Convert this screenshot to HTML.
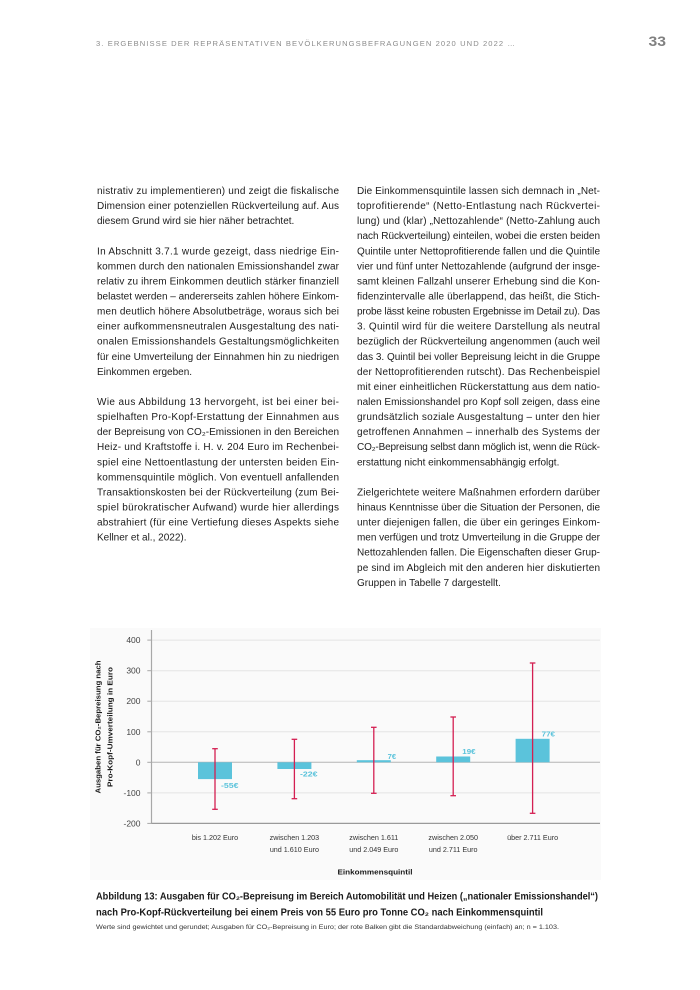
<!DOCTYPE html>
<html lang="de">
<head>
<meta charset="utf-8">
<title>Abbildung 13</title>
<style>
  html, body { margin: 0; padding: 0; background: #ffffff; }
  body { width: 700px; height: 990px; overflow: hidden; }
  svg { display: block; }
  .b { font-family: "Liberation Sans", "DejaVu Sans", sans-serif; font-size: 10px; fill: #1c1c1c; }
  .ax { font-family: "Liberation Sans", "DejaVu Sans", sans-serif; }
</style>
</head>
<body>
<svg width="700" height="990" viewBox="0 0 700 990" xmlns="http://www.w3.org/2000/svg">
  <rect x="0" y="0" width="700" height="990" fill="#ffffff"/>

  <!-- Header -->
  <text x="96" y="46" class="ax" font-size="7.6" fill="#8c8c8c" textLength="419" lengthAdjust="spacing">3. ERGEBNISSE DER REPRÄSENTATIVEN BEVÖLKERUNGSBEFRAGUNGEN 2020 UND 2022 …</text>
  <text x="648.5" y="45.8" class="ax" font-size="13.5" font-weight="bold" fill="#808080" textLength="17.5" lengthAdjust="spacingAndGlyphs">33</text>

  <!-- Left column -->
  <g class="b">
    <text x="97" y="194" textLength="242" lengthAdjust="spacing">nistrativ zu implementieren) und zeigt die fiskalische</text>
    <text x="97" y="209.07" textLength="242" lengthAdjust="spacing">Dimension einer potenziellen Rückverteilung auf. Aus</text>
    <text x="97" y="224.14">diesem Grund wird sie hier näher betrachtet.</text>

    <text x="97" y="254.28" textLength="242" lengthAdjust="spacing">In Abschnitt 3.7.1 wurde gezeigt, dass niedrige Ein-</text>
    <text x="97" y="269.35" textLength="242" lengthAdjust="spacing">kommen durch den nationalen Emissionshandel zwar</text>
    <text x="97" y="284.42" textLength="242" lengthAdjust="spacing">relativ zu ihrem Einkommen deutlich stärker finanziell</text>
    <text x="97" y="299.49" textLength="242" lengthAdjust="spacing">belastet werden – andererseits zahlen höhere Einkom-</text>
    <text x="97" y="314.56" textLength="242" lengthAdjust="spacing">men deutlich höhere Absolutbeträge, woraus sich bei</text>
    <text x="97" y="329.63" textLength="242" lengthAdjust="spacing">einer aufkommensneutralen Ausgestaltung des nati-</text>
    <text x="97" y="344.70" textLength="242" lengthAdjust="spacing">onalen Emissionshandels Gestaltungsmöglichkeiten</text>
    <text x="97" y="359.77" textLength="242" lengthAdjust="spacing">für eine Umverteilung der Einnahmen hin zu niedrigen</text>
    <text x="97" y="374.84">Einkommen ergeben.</text>

    <text x="97" y="404.98" textLength="242" lengthAdjust="spacing">Wie aus Abbildung 13 hervorgeht, ist bei einer bei-</text>
    <text x="97" y="420.05" textLength="242" lengthAdjust="spacing">spielhaften Pro-Kopf-Erstattung der Einnahmen aus</text>
    <text x="97" y="435.12" textLength="242" lengthAdjust="spacing">der Bepreisung von CO₂-Emissionen in den Bereichen</text>
    <text x="97" y="450.19" textLength="242" lengthAdjust="spacing">Heiz- und Kraftstoffe i. H. v. 204 Euro im Rechenbei-</text>
    <text x="97" y="465.26" textLength="242" lengthAdjust="spacing">spiel eine Nettoentlastung der untersten beiden Ein-</text>
    <text x="97" y="480.33" textLength="242" lengthAdjust="spacing">kommensquintile möglich. Von eventuell anfallenden</text>
    <text x="97" y="495.40" textLength="242" lengthAdjust="spacing">Transaktionskosten bei der Rückverteilung (zum Bei-</text>
    <text x="97" y="510.47" textLength="242" lengthAdjust="spacing">spiel bürokratischer Aufwand) wurde hier allerdings</text>
    <text x="97" y="525.54" textLength="242" lengthAdjust="spacing">abstrahiert (für eine Vertiefung dieses Aspekts siehe</text>
    <text x="97" y="540.61">Kellner et al., 2022).</text>
  </g>

  <!-- Right column -->
  <g class="b">
    <text x="357" y="194" textLength="243" lengthAdjust="spacing">Die Einkommensquintile lassen sich demnach in „Net-</text>
    <text x="357" y="209.07" textLength="243" lengthAdjust="spacing">toprofitierende“ (Netto-Entlastung nach Rückvertei-</text>
    <text x="357" y="224.14" textLength="243" lengthAdjust="spacing">lung) und (klar) „Nettozahlende“ (Netto-Zahlung auch</text>
    <text x="357" y="239.21" textLength="243" lengthAdjust="spacing">nach Rückverteilung) einteilen, wobei die ersten beiden</text>
    <text x="357" y="254.28" textLength="243" lengthAdjust="spacing">Quintile unter Nettoprofitierende fallen und die Quintile</text>
    <text x="357" y="269.35" textLength="243" lengthAdjust="spacing">vier und fünf unter Nettozahlende (aufgrund der insge-</text>
    <text x="357" y="284.42" textLength="243" lengthAdjust="spacing">samt kleinen Fallzahl unserer Erhebung sind die Kon-</text>
    <text x="357" y="299.49" textLength="243" lengthAdjust="spacing">fidenzintervalle alle überlappend, das heißt, die Stich-</text>
    <text x="357" y="314.56" textLength="243" lengthAdjust="spacing">probe lässt keine robusten Ergebnisse im Detail zu). Das</text>
    <text x="357" y="329.63" textLength="243" lengthAdjust="spacing">3. Quintil wird für die weitere Darstellung als neutral</text>
    <text x="357" y="344.70" textLength="243" lengthAdjust="spacing">bezüglich der Rückverteilung angenommen (auch weil</text>
    <text x="357" y="359.77" textLength="243" lengthAdjust="spacing">das 3. Quintil bei voller Bepreisung leicht in die Gruppe</text>
    <text x="357" y="374.84" textLength="243" lengthAdjust="spacing">der Nettoprofitierenden rutscht). Das Rechenbeispiel</text>
    <text x="357" y="389.91" textLength="243" lengthAdjust="spacing">mit einer einheitlichen Rückerstattung aus dem natio-</text>
    <text x="357" y="404.98" textLength="243" lengthAdjust="spacing">nalen Emissionshandel pro Kopf soll zeigen, dass eine</text>
    <text x="357" y="420.05" textLength="243" lengthAdjust="spacing">grundsätzlich soziale Ausgestaltung – unter den hier</text>
    <text x="357" y="435.12" textLength="243" lengthAdjust="spacing">getroffenen Annahmen – innerhalb des Systems der</text>
    <text x="357" y="450.19" textLength="243" lengthAdjust="spacing">CO₂-Bepreisung selbst dann möglich ist, wenn die Rück-</text>
    <text x="357" y="465.26">erstattung nicht einkommensabhängig erfolgt.</text>

    <text x="357" y="495.40" textLength="243" lengthAdjust="spacing">Zielgerichtete weitere Maßnahmen erfordern darüber</text>
    <text x="357" y="510.47" textLength="243" lengthAdjust="spacing">hinaus Kenntnisse über die Situation der Personen, die</text>
    <text x="357" y="525.54" textLength="243" lengthAdjust="spacing">unter diejenigen fallen, die über ein geringes Einkom-</text>
    <text x="357" y="540.61" textLength="243" lengthAdjust="spacing">men verfügen und trotz Umverteilung in die Gruppe der</text>
    <text x="357" y="555.68" textLength="243" lengthAdjust="spacing">Nettozahlenden fallen. Die Eigenschaften dieser Grup-</text>
    <text x="357" y="570.75" textLength="243" lengthAdjust="spacing">pe sind im Abgleich mit den anderen hier diskutierten</text>
    <text x="357" y="585.82">Gruppen in Tabelle 7 dargestellt.</text>
  </g>

  <!-- Chart background -->
  <rect x="90" y="628" width="511" height="252" fill="#fafafa"/>

  <!-- Gridlines -->
  <g stroke="#e4e4e4" stroke-width="1">
    <line x1="151.5" y1="640.1" x2="600" y2="640.1"/>
    <line x1="151.5" y1="670.7" x2="600" y2="670.7"/>
    <line x1="151.5" y1="701.2" x2="600" y2="701.2"/>
    <line x1="151.5" y1="731.8" x2="600" y2="731.8"/>
    <line x1="151.5" y1="792.9" x2="600" y2="792.9"/>
  </g>
  <!-- zero line -->
  <line x1="151.5" y1="762.3" x2="600" y2="762.3" stroke="#b4b4b4" stroke-width="1"/>

  <!-- Bars -->
  <g fill="#5bc3db">
    <rect x="198" y="762.3" width="34" height="16.8"/>
    <rect x="277.4" y="762.3" width="34" height="6.7"/>
    <rect x="356.8" y="760.2" width="34" height="2.1"/>
    <rect x="436.2" y="756.5" width="34" height="5.8"/>
    <rect x="515.6" y="738.8" width="34" height="23.5"/>
  </g>

  <!-- Error bars -->
  <g stroke="#d41f52" stroke-width="1.3" fill="none">
    <line x1="215" y1="748.7" x2="215" y2="809.3"/>
    <line x1="212.2" y1="748.7" x2="217.8" y2="748.7"/>
    <line x1="212.2" y1="809.3" x2="217.8" y2="809.3"/>

    <line x1="294.4" y1="739.3" x2="294.4" y2="798.7"/>
    <line x1="291.6" y1="739.3" x2="297.2" y2="739.3"/>
    <line x1="291.6" y1="798.7" x2="297.2" y2="798.7"/>

    <line x1="373.8" y1="727.3" x2="373.8" y2="793.3"/>
    <line x1="371" y1="727.3" x2="376.6" y2="727.3"/>
    <line x1="371" y1="793.3" x2="376.6" y2="793.3"/>

    <line x1="453.2" y1="717" x2="453.2" y2="795.7"/>
    <line x1="450.4" y1="717" x2="456" y2="717"/>
    <line x1="450.4" y1="795.7" x2="456" y2="795.7"/>

    <line x1="532.6" y1="663" x2="532.6" y2="813.3"/>
    <line x1="529.8" y1="663" x2="535.4" y2="663"/>
    <line x1="529.8" y1="813.3" x2="535.4" y2="813.3"/>
  </g>

  <!-- Value labels -->
  <g class="ax" font-size="7" font-weight="bold" fill="#5bc3db">
    <text x="221" y="787.8" textLength="17.5" lengthAdjust="spacingAndGlyphs">-55€</text>
    <text x="300" y="776.6" textLength="17.5" lengthAdjust="spacingAndGlyphs">-22€</text>
    <text x="387.7" y="759.2" textLength="8.5" lengthAdjust="spacingAndGlyphs">7€</text>
    <text x="462.3" y="754.2" textLength="13.3" lengthAdjust="spacingAndGlyphs">19€</text>
    <text x="541.7" y="736.5" textLength="13.3" lengthAdjust="spacingAndGlyphs">77€</text>
  </g>

  <!-- Axes -->
  <line x1="151.5" y1="630" x2="151.5" y2="823.4" stroke="#a8a8a8" stroke-width="1.2"/>
  <line x1="151.5" y1="823.4" x2="600" y2="823.4" stroke="#9a9a9a" stroke-width="1.2"/>
  <g stroke="#a8a8a8" stroke-width="1">
    <line x1="147.3" y1="640.1" x2="151.5" y2="640.1"/>
    <line x1="147.3" y1="670.7" x2="151.5" y2="670.7"/>
    <line x1="147.3" y1="701.2" x2="151.5" y2="701.2"/>
    <line x1="147.3" y1="731.8" x2="151.5" y2="731.8"/>
    <line x1="147.3" y1="762.3" x2="151.5" y2="762.3"/>
    <line x1="147.3" y1="792.9" x2="151.5" y2="792.9"/>
    <line x1="147.3" y1="823.4" x2="151.5" y2="823.4"/>
  </g>
  <g class="ax" font-size="8.5" fill="#444" text-anchor="end">
    <text x="140.5" y="643.1">400</text>
    <text x="140.5" y="673.7">300</text>
    <text x="140.5" y="704.2">200</text>
    <text x="140.5" y="734.8">100</text>
    <text x="140.5" y="765.3">0</text>
    <text x="140.5" y="795.9">-100</text>
    <text x="140.5" y="826.4">-200</text>
  </g>

  <!-- Y axis title -->
  <g class="ax" font-size="7.5" font-weight="bold" fill="#1a1a1a" text-anchor="middle">
    <text transform="translate(100.6,727) rotate(-90)" textLength="133" lengthAdjust="spacingAndGlyphs">Ausgaben für CO₂-Bepreisung nach</text>
    <text transform="translate(112.3,727) rotate(-90)" textLength="120" lengthAdjust="spacingAndGlyphs">Pro-Kopf-Umverteilung in Euro</text>
  </g>

  <!-- X category labels -->
  <g class="ax" font-size="7.2" fill="#333" text-anchor="middle">
    <text x="215" y="839.8">bis 1.202 Euro</text>
    <text x="294.4" y="839.8">zwischen 1.203</text>
    <text x="294.4" y="851.8">und 1.610 Euro</text>
    <text x="373.8" y="839.8">zwischen 1.611</text>
    <text x="373.8" y="851.8">und 2.049 Euro</text>
    <text x="453.2" y="839.8">zwischen 2.050</text>
    <text x="453.2" y="851.8">und 2.711 Euro</text>
    <text x="532.6" y="839.8">über 2.711 Euro</text>
  </g>
  <text x="375" y="874.5" class="ax" font-size="7.6" font-weight="bold" fill="#1a1a1a" text-anchor="middle" textLength="75" lengthAdjust="spacingAndGlyphs">Einkommensquintil</text>

  <!-- Caption -->
  <text x="96" y="899.5" class="ax" font-size="9.8" font-weight="bold" fill="#1a1a1a" textLength="502" lengthAdjust="spacingAndGlyphs">Abbildung 13: Ausgaben für CO₂-Bepreisung im Bereich Automobilität und Heizen („nationaler Emissionshandel“)</text>
  <text x="96" y="915.5" class="ax" font-size="9.8" font-weight="bold" fill="#1a1a1a" textLength="447" lengthAdjust="spacingAndGlyphs">nach Pro-Kopf-Rückverteilung bei einem Preis von 55 Euro pro Tonne CO₂ nach Einkommensquintil</text>
  <text x="96" y="928.8" class="ax" font-size="6.4" fill="#333" textLength="463" lengthAdjust="spacingAndGlyphs">Werte sind gewichtet und gerundet; Ausgaben für CO₂-Bepreisung in Euro; der rote Balken gibt die Standardabweichung (einfach) an; n = 1.103.</text>
</svg>
</body>
</html>
